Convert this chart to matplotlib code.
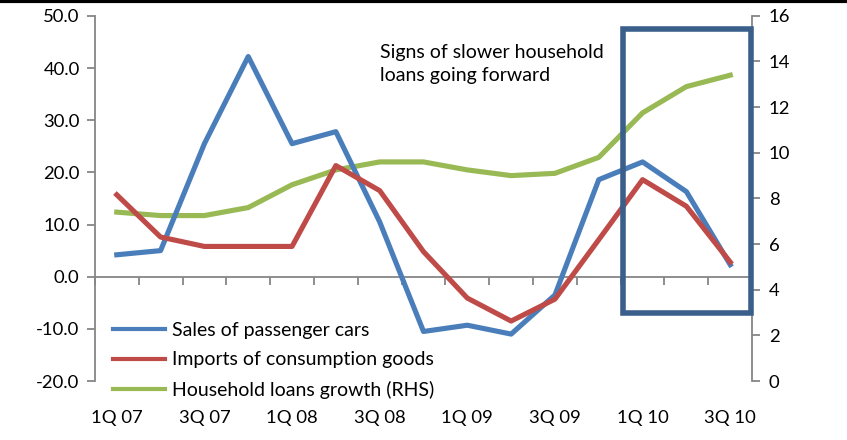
import matplotlib.pyplot as plt
from matplotlib.patches import Rectangle
from matplotlib.lines import Line2D

plt.rcParams['font.family'] = ['Lato', 'DejaVu Sans']

quarters = ['1Q 07', '2Q 07', '3Q 07', '4Q 07', '1Q 08', '2Q 08', '3Q 08', '4Q 08',
            '1Q 09', '2Q 09', '3Q 09', '4Q 09', '1Q 10', '2Q 10', '3Q 10']
cars = [4.2, 5.0, 25.5, 42.2, 25.5, 27.8, 10.5, -10.5, -9.3, -11.0, -3.5, 18.6, 22.0, 16.3, 2.3]
imports = [15.7, 7.6, 5.8, 5.8, 5.8, 21.3, 16.5, 4.8, -4.1, -8.5, -4.3, 7.1, 18.6, 13.5, 2.8]
loans = [7.4, 7.25, 7.25, 7.6, 8.6, 9.25, 9.6, 9.6, 9.25, 9.0, 9.1, 9.8, 11.75, 12.9, 13.4]

blue = '#4A7EBB'
red = '#BE4B48'
green = '#98B954'
gray = '#868686'

fig = plt.figure(figsize=(8.47, 4.40), dpi=100)
ax = fig.add_axes([0.112, 0.134, 0.776, 0.83])
ax2 = ax.twinx()

x = list(range(len(quarters)))
ax.plot(x, cars, color=blue, lw=3.7, label='Sales of passenger cars', zorder=3)
ax.plot(x, imports, color=red, lw=3.7, label='Imports of consumption goods', zorder=3)
ax2.plot(x, loans, color=green, lw=3.7, label='Household loans growth (RHS)')

ax.set_zorder(ax2.get_zorder() + 1)
ax.patch.set_visible(False)

ax.set_xlim(-0.5, 14.5)
ax.set_ylim(-20, 50)
ax2.set_ylim(0, 16)
ax.set_yticks(range(-20, 51, 10))
ax.set_yticklabels([f'{v:.1f}' for v in range(-20, 51, 10)])
ax2.set_yticks(range(0, 17, 2))

for a in (ax, ax2):
    for s in ('top', 'bottom'):
        a.spines[s].set_visible(False)
    a.spines['left'].set_color(gray)
    a.spines['right'].set_color(gray)
    a.spines['left'].set_linewidth(1.3)
    a.spines['right'].set_linewidth(1.3)
ax.spines['right'].set_visible(False)
ax2.spines['left'].set_visible(False)

ax.tick_params(axis='y', colors=gray, width=1.3, length=6, labelsize=13.3, labelcolor='black', pad=5)
ax2.tick_params(axis='y', colors=gray, width=1.3, length=6, labelsize=13.3, labelcolor='black', pad=6)

ax.set_xticks(x[::2])
ax.set_xticklabels(quarters[::2])
ax.tick_params(axis='x', length=0, labelsize=13.3, pad=21)

# zero line with category tick marks
zero = ax.secondary_xaxis(2 / 7)
zero.spines['bottom'].set_color(gray)
zero.spines['bottom'].set_linewidth(1.3)
zero.set_xticks([k - 0.5 for k in range(16)])
zero.tick_params(axis='x', colors=gray, width=1.3, length=6, labelbottom=False)

# highlight box
ax.add_patch(Rectangle((11.55, -6.9), 2.93, 54.3, fill=False, edgecolor='#3A5F8B',
                       lw=4, clip_on=False, zorder=5))

ax.text(6.0, 44.6, 'Signs of slower household\nloans going forward', fontsize=14,
        va='top', ha='left', linespacing=1.4)

handles = [Line2D([], [], color=blue, lw=3), Line2D([], [], color=red, lw=3),
           Line2D([], [], color=green, lw=3)]
labels = ['Sales of passenger cars', 'Imports of consumption goods', 'Household loans growth (RHS)']
ax.legend(handles, labels, loc='upper left', bbox_to_anchor=(0.0274, 0.163), frameon=False,
          fontsize=14, handlelength=2.7, labelspacing=0.66, handletextpad=0.36,
          borderpad=0, borderaxespad=0)

fig.add_artist(Line2D([0, 1], [0.997, 0.997], color='black', lw=3, transform=fig.transFigure))

fig.savefig('out.png', dpi=100)
